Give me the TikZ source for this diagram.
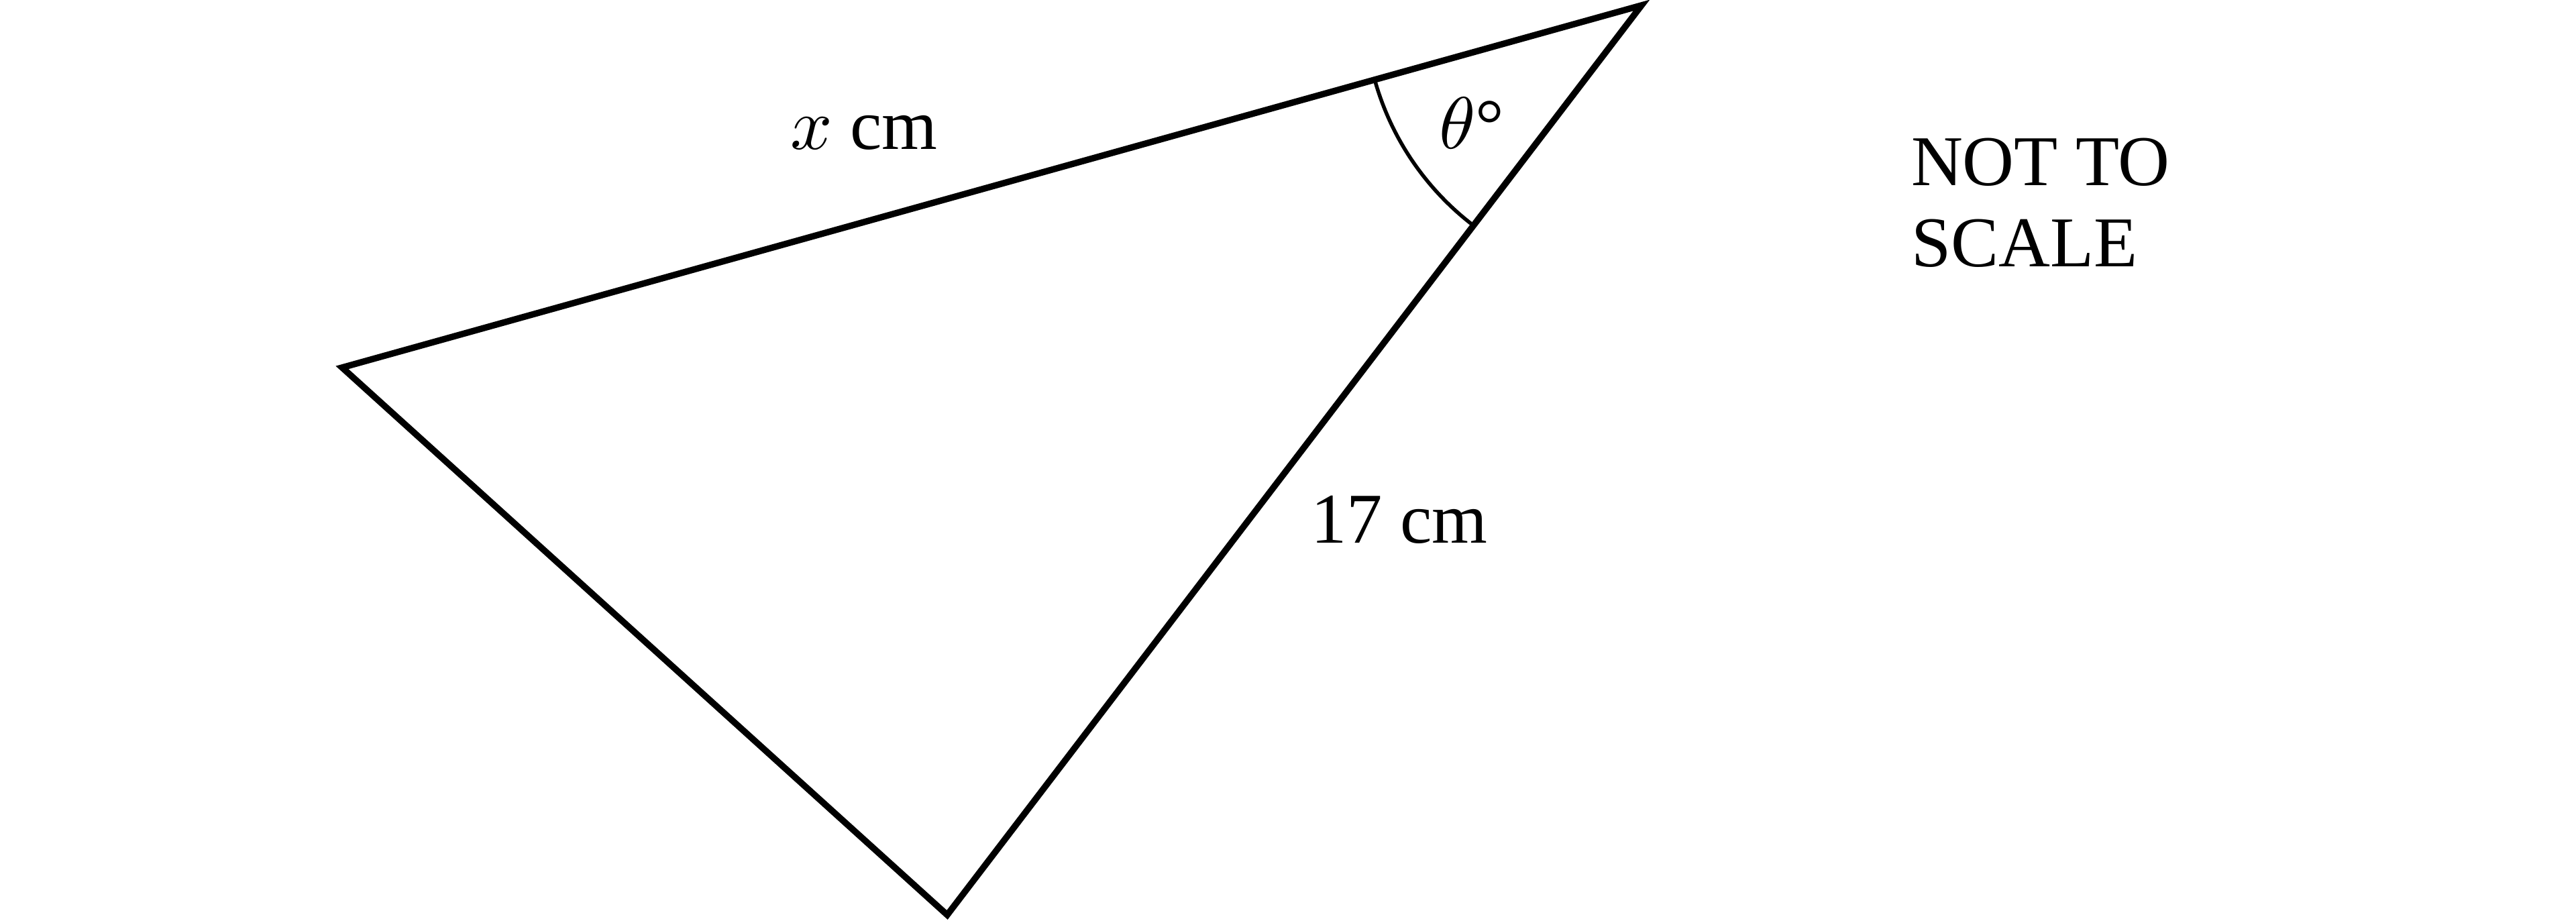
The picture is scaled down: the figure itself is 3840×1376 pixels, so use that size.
\documentclass[tikz,border=0pt]{standalone}
\usepackage{fontspec}
\setmainfont{Liberation Serif}
\begin{document}
\begin{tikzpicture}[x=0.1pt,y=0.1pt,
  side/.style={line width=0.95pt,line join=miter},
  anglearc/.style={line width=0.55pt},
  lbl/.style={inner sep=0pt,anchor=base west,font=\fontsize{10.65}{12.1}\selectfont}]
\useasboundingbox (0,0) rectangle (3840,1376);
\coordinate (A) at (510,828);
\coordinate (B) at (2447,1368);
\coordinate (C) at (1412,12);
\draw[side] (A) -- (B) -- (C) -- cycle;
\draw[anglearc] (B) ++(195.6:41.3pt) arc[start angle=195.6,end angle=232.6,radius=41.3pt];
\node[lbl] (xlab) at (1176,1153) {$x$ cm};
\node[lbl] (slab) at (1952,566) {17 cm};
\node[lbl] (tlab) at (2143,1154) {$\theta$°};
\node[lbl] (n1) at (2847,1099) {NOT TO};
\node[lbl] (n2) at (2847,978) {SCALE};
\end{tikzpicture}
\end{document}
